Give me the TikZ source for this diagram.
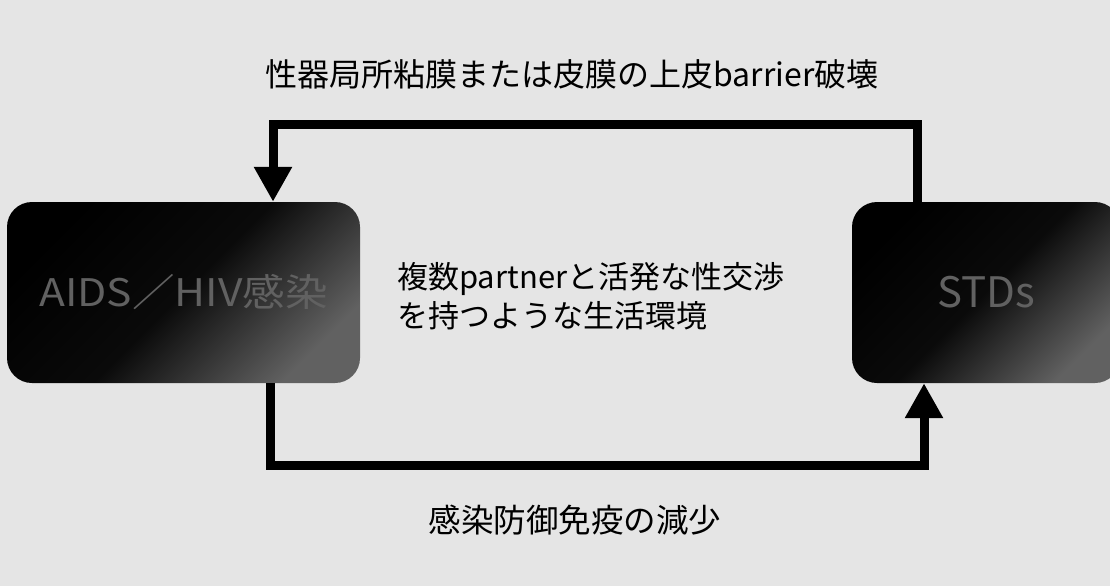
\documentclass[tikz,border=0pt]{standalone}
\usepackage{fontspec}
\setmainfont{Noto Sans CJK JP}
\usetikzlibrary{arrows.meta}
\begin{document}
\begin{tikzpicture}[x=1pt,y=-1pt,
  lbl/.style={font=\fontsize{31}{39}\selectfont, text=black, inner sep=0pt},
  box/.style={rounded corners=25pt, minimum height=181pt, inner sep=0pt,
    top color=black, bottom color=black!62, middle color=black!96, shading angle=45,
    text=black!62},
  conn/.style={line width=9pt, -{Triangle[width=36pt,length=35pt]}}]
\useasboundingbox (0,0) rectangle (1110,586);
\fill[black!10] (0,0) rectangle (1110,586);
\clip (0,0) rectangle (1110,586);
% boxes
\node[box, minimum width=353pt] (L) at (183.5,292.5)
  {\fontsize{38}{40}\selectfont\scalebox{1.12}[1]{AIDS／HIV感染}};
\node[box, minimum width=268pt] (R) at (986,292.5)
  {\fontsize{42}{44}\selectfont STDs};
% labels
\node[lbl, font=\fontsize{32}{39}\selectfont] (top) at (572,74) {性器局所粘膜または皮膜の上皮barrier破壊};
\node[lbl, anchor=west, align=left] (mid) at (397,296.5) {複数partnerと活発な性交渉\\を持つような生活環境};
\node[lbl, font=\fontsize{32.5}{39}\selectfont] (bot) at (575,520) {感染防御免疫の減少};
% connector corners
\coordinate (tr) at (917,124);
\coordinate (tl) at (273,124);
\coordinate (bl) at (270,465);
\coordinate (br) at (924,465);
\draw[conn] (R.north -| tr) -- (tr) -- (tl) -- (L.north -| tl);
\draw[conn] (L.south -| bl) -- (bl) -- (br) -- (R.south -| br);
\end{tikzpicture}
\end{document}
